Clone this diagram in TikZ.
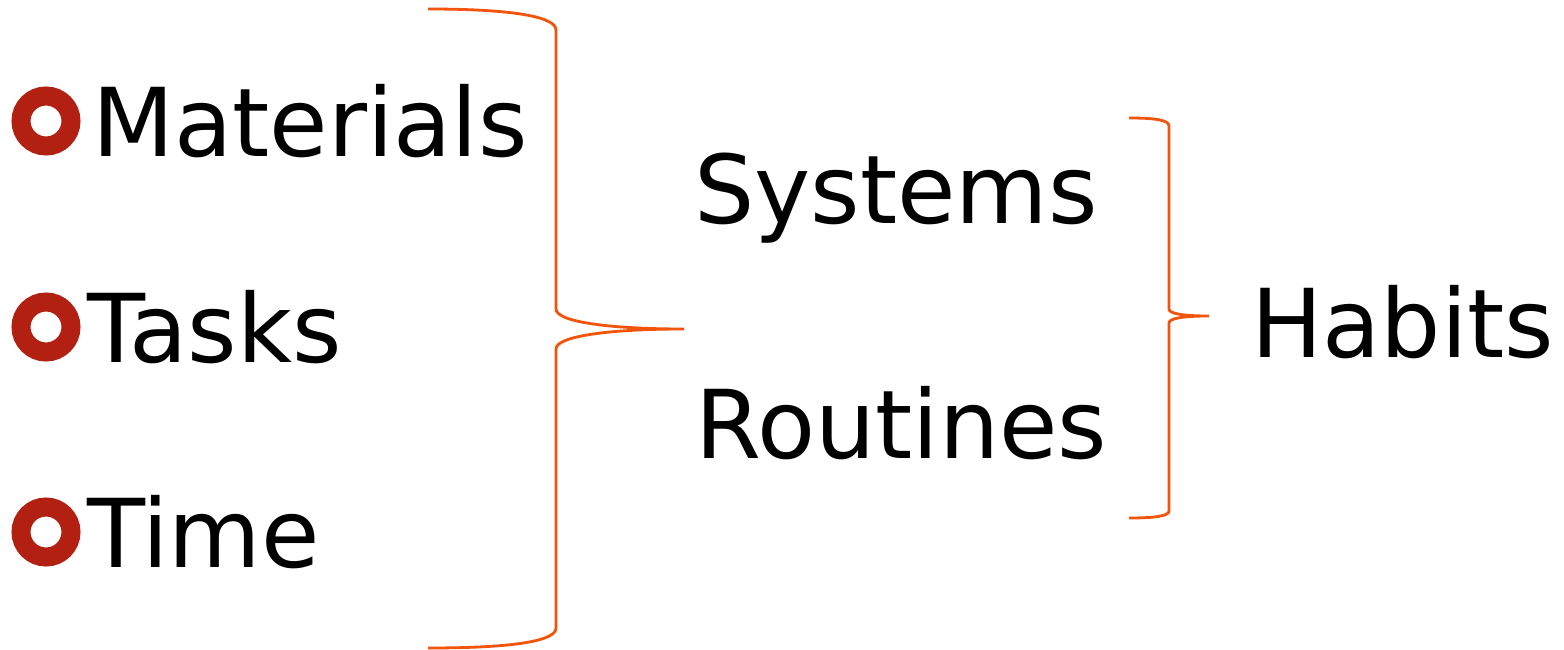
\documentclass[tikz,border=0pt]{standalone}
\usepackage{fontspec}
\setmainfont{DejaVu Sans}
\usetikzlibrary{positioning}
\definecolor{bulletred}{RGB}{178,32,18}
\definecolor{braceorange}{RGB}{242,84,10}

\begin{document}
\begin{tikzpicture}[
    x=1pt, y=-1pt,
    word/.style={
      anchor=base west,
      inner sep=0pt,
      font=\fontsize{95}{95}\selectfont
    },
    bullet/.style={
      circle,
      draw=bulletred,
      line width=19pt,
      fill=white,
      minimum size=50pt,
      inner sep=0pt
    },
    brace/.style={
      draw=braceorange,
      line width=2.8pt
    }
  ]
    \useasboundingbox (0,0) rectangle (1564,650);
    % left column
    \node[bullet] (b1) at (46,121) {};
    \node[bullet] (b2) at (46,327) {};
    \node[bullet] (b3) at (46,532) {};
    \node[word] (materials) at (92,157) {Materials};
    \node[word] (tasks)     at (87,362) {Tasks};
    \node[word] (time)      at (87,567) {Time};
    % middle column
    \node[word] (systems)  at (694,223) {Systems};
    \node[word] (routines) at (695,458) {Routines};
    % right
    \node[word] (habits) at (1251,357) {Habits};
    % big brace
    \draw[brace] (428,9) .. controls (520,9) and (556,18) .. (556,30)
      -- (556,309) .. controls (556,322) and (610,329) .. (684,329)
      .. controls (610,329) and (556,336) .. (556,349)
      -- (556,628) .. controls (556,640) and (520,648) .. (428,648);
    % small brace
    \draw[brace] (1129,118) .. controls (1155,118) and (1169,120) .. (1169,126)
      -- (1169,309) .. controls (1169,314) and (1185,316) .. (1209,316)
      .. controls (1185,316) and (1169,318) .. (1169,323)
      -- (1169,511) .. controls (1169,516) and (1155,518) .. (1129,518);
\end{tikzpicture}
\end{document}
